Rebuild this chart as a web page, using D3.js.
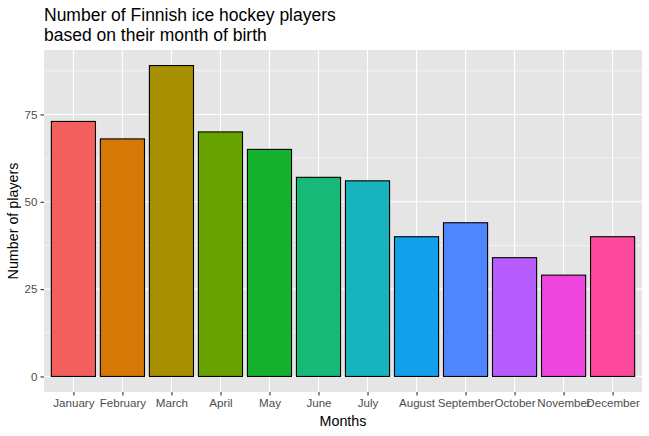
<!DOCTYPE html>
<html>
<head>
<meta charset="utf-8">
<script src="https://cdn.jsdelivr.net/npm/d3@7"></script>
<style>
  body { margin: 0; background: #fff; }
  text { font-family: "Liberation Sans", Arial, sans-serif; }
</style>
</head>
<body>
<svg id="chart" width="649" height="436"></svg>
<script>
// data
const months = ["January", "February", "March", "April", "May", "June",
  "July", "August", "September", "October", "November", "December"];
const players = [73, 68, 89, 70, 65, 57, 56, 40, 44, 34, 29, 40];
const fills = ["#F35F5C", "#D67806", "#A68F00", "#68A200", "#15B02E", "#17B978",
  "#17B4BD", "#12A0EA", "#4F86FF", "#B75CFF", "#EE45DE", "#FB489B"];
const yTicks = [0, 25, 50, 75];
const yMinor = [12.5, 37.5, 62.5, 87.5];

const width = 649, height = 436;
const margin = { top: 50, right: 7, bottom: 44, left: 44 };

const svg = d3.select("#chart");

// ggplot style expansion: 0.6 band on discrete x, 5% on y
const n = months.length;
const xInner = d3.scaleLinear()
  .domain([0.4, n + 0.6])
  .range([margin.left, width - margin.right]);
const x = m => xInner(months.indexOf(m) + 1);
const bw = xInner(1.45) - xInner(1);

const yMax = d3.max(players);
const y = d3.scaleLinear()
  .domain([-yMax * 0.05, yMax * 1.05])
  .range([height - margin.bottom, margin.top]);

// panel
svg.append("rect")
  .attr("x", margin.left).attr("y", margin.top)
  .attr("width", width - margin.left - margin.right)
  .attr("height", height - margin.top - margin.bottom)
  .attr("fill", "#e5e5e5");

const grid = svg.append("g").attr("stroke", "#fff");
grid.selectAll(".minor").data(yMinor).join("line")
  .attr("x1", margin.left).attr("x2", width - margin.right)
  .attr("y1", d => y(d)).attr("y2", d => y(d))
  .attr("stroke-width", 0.55);
grid.selectAll(".my").data(yTicks).join("line")
  .attr("x1", margin.left).attr("x2", width - margin.right)
  .attr("y1", d => y(d)).attr("y2", d => y(d))
  .attr("stroke-width", 1.1);
grid.selectAll(".mx").data(months).join("line")
  .attr("x1", d => x(d)).attr("x2", d => x(d))
  .attr("y1", margin.top).attr("y2", height - margin.bottom)
  .attr("stroke-width", 1.1);

// bars
svg.append("g").selectAll("rect").data(months).join("rect")
  .attr("x", d => x(d) - bw)
  .attr("width", bw * 2)
  .attr("y", (d, i) => y(players[i]))
  .attr("height", (d, i) => y(0) - y(players[i]))
  .attr("fill", (d, i) => fills[i])
  .attr("stroke", "#000")
  .attr("stroke-width", 1.1);

// axes
const xAxis = d3.axisBottom(d3.scalePoint().domain(months)
  .range([x(months[0]), x(months[n - 1])]))
  .tickSize(3.5).tickPadding(3);
const gx = svg.append("g")
  .attr("transform", `translate(0,${height - margin.bottom})`)
  .call(xAxis);
gx.select(".domain").remove();
gx.selectAll("line").attr("stroke", "#333").attr("stroke-width", 1.1);
gx.selectAll("text").attr("fill", "#4d4d4d").attr("font-size", 11.6);

const yAxis = d3.axisLeft(y).tickValues(yTicks).tickSize(3.5).tickPadding(3);
const gy = svg.append("g")
  .attr("transform", `translate(${margin.left},0)`)
  .call(yAxis);
gy.select(".domain").remove();
gy.selectAll("line").attr("stroke", "#333").attr("stroke-width", 1.1);
gy.selectAll("text").attr("fill", "#4d4d4d").attr("font-size", 11.6);

// titles
svg.append("text")
  .attr("x", (margin.left + width - margin.right) / 2)
  .attr("y", 426)
  .attr("text-anchor", "middle")
  .attr("font-size", 14.3)
  .text("Months");

svg.append("text")
  .attr("transform", `translate(18,${(margin.top + height - margin.bottom) / 2}) rotate(-90)`)
  .attr("text-anchor", "middle")
  .attr("font-size", 14.3)
  .text("Number of players");

const title = svg.append("text")
  .attr("x", margin.left)
  .attr("font-size", 17.5);
title.append("tspan").attr("x", margin.left).attr("y", 21)
  .text("Number of Finnish ice hockey players");
title.append("tspan").attr("x", margin.left).attr("y", 41)
  .text("based on their month of birth");
</script>
</body>
</html>
